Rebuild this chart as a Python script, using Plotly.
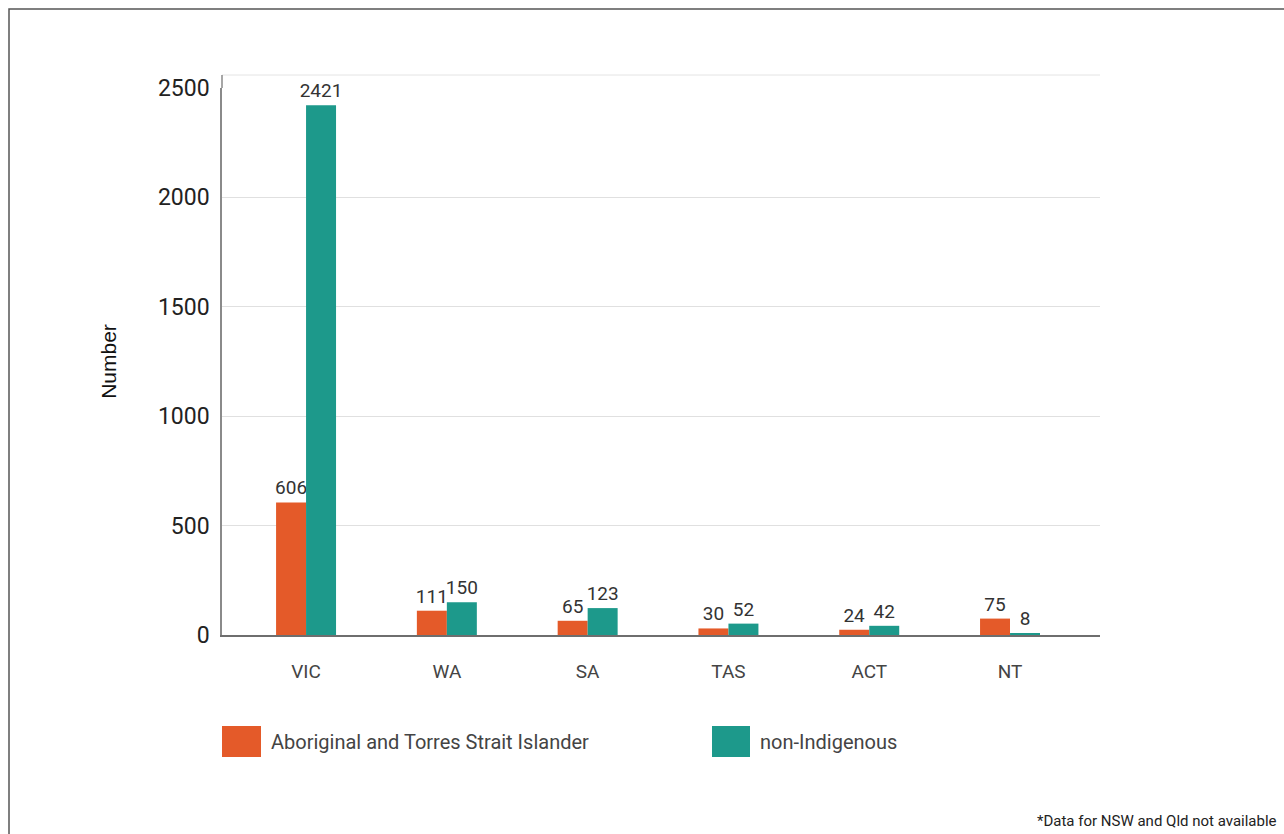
import plotly.graph_objects as go

# ---- data ----
states = ["VIC", "WA", "SA", "TAS", "ACT", "NT"]
aboriginal = [606, 111, 65, 30, 24, 75]
non_indigenous = [2421, 150, 123, 52, 42, 8]
series_names = ["Aboriginal and Torres Strait Islander", "non-Indigenous"]
y_ticks = [0, 500, 1000, 1500, 2000, 2500]
y_title = "Number"
footnote = "*Data for NSW and Qld not available"

ORANGE = "#E45A29"
GREEN = "#1D998B"
FONT = "Roboto, 'DejaVu Sans Condensed', sans-serif"

# layout geometry (pixels)
W, H = 1284, 834
L, R, T, B = 222, 184, 88, 199
PW = W - L - R
PH = H - T - B


def px_x(px):
    return (px - L) / PW


def px_y(py):
    return (H - B - py) / PH


fig = go.Figure()
fig.add_trace(go.Bar(
    x=states, y=aboriginal, name=series_names[0],
    marker=dict(color=ORANGE, line=dict(width=0)),
    text=aboriginal, textposition="outside", constraintext="none",
    textfont=dict(family=FONT, size=19, color="#333333"),
    cliponaxis=False, showlegend=False,
))
fig.add_trace(go.Bar(
    x=states, y=non_indigenous, name=series_names[1],
    marker=dict(color=GREEN, line=dict(width=0)),
    text=non_indigenous, textposition="outside", constraintext="none",
    textfont=dict(family=FONT, size=19, color="#333333"),
    cliponaxis=False, showlegend=False,
))

shapes = []
annotations = []

# custom legend
legend_items = [
    (series_names[0], ORANGE, 222, 261, 269),
    (series_names[1], GREEN, 712, 750, 758),
]
for name, color, x0, x1, tx in legend_items:
    shapes.append(dict(type="rect", xref="paper", yref="paper",
                       x0=px_x(x0), x1=px_x(x1), y0=px_y(757), y1=px_y(726),
                       fillcolor=color, line=dict(width=0)))
    annotations.append(dict(text=name, xref="paper", yref="paper",
                            x=px_x(tx), y=px_y(742), xanchor="left", yanchor="middle",
                            showarrow=False,
                            font=dict(family=FONT, size=20, color="#444444")))

# footnote
annotations.append(dict(text=footnote, xref="paper", yref="paper",
                        x=px_x(1279), y=px_y(821), xanchor="right", yanchor="middle",
                        showarrow=False,
                        font=dict(family=FONT, size=15, color="#222222")))

# faint top border of plot area and y-axis extension
shapes.append(dict(type="line", xref="paper", yref="paper",
                   x0=0, x1=1, y0=px_y(75), y1=px_y(75),
                   line=dict(color="#e4e4e4", width=1)))
shapes.append(dict(type="line", xref="paper", yref="paper",
                   x0=0, x1=0, y0=1, y1=px_y(75),
                   line=dict(color="#8a8a8a", width=1.5)))

# outer frame
shapes.append(dict(type="path", xref="paper", yref="paper",
                   path=f"M {px_x(9)},{px_y(840)} L {px_x(9)},{px_y(9)} L {px_x(1290)},{px_y(9)}",
                   line=dict(color="#555555", width=1.5)))

fig.update_layout(
    width=W, height=H,
    margin=dict(l=L, r=R, t=T, b=B, pad=0),
    paper_bgcolor="white", plot_bgcolor="white",
    barmode="group", bargap=0.574, bargroupgap=0,
    shapes=shapes, annotations=annotations,
    font=dict(family=FONT),
)
fig.update_xaxes(
    range=[-0.597, 5.639],
    showline=True, linecolor="#6e6e6e", linewidth=1.5,
    showgrid=False, ticks="", ticklabelstandoff=18,
    tickfont=dict(family=FONT, size=19, color="#444444"),
)
fig.update_yaxes(
    range=[0, 2500], tickvals=y_ticks,
    showline=True, linecolor="#8a8a8a", linewidth=1.5,
    showgrid=True, gridcolor="#e0e0e0", gridwidth=1,
    zeroline=False, ticks="", ticklabelstandoff=6,
    tickfont=dict(family=FONT, size=23, color="#222222"),
    title=dict(text=y_title, standoff=36,
               font=dict(family="'Liberation Sans', Arial, sans-serif", size=21, color="#111111")),
)

fig.write_html("out.html", config={"displayModeBar": False},
               post_script="document.body.style.margin='0';document.body.style.overflow='hidden';")
